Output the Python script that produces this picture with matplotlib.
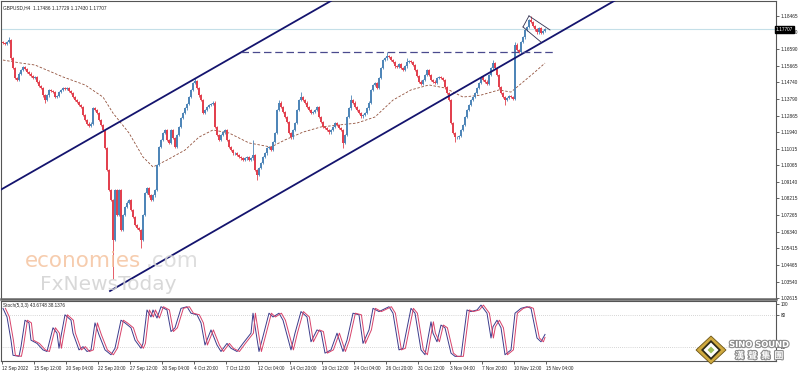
import numpy as np
import matplotlib.pyplot as plt
from matplotlib.patches import Polygon
import matplotlib.patheffects as pe

# GBPUSD H4 closes, one per bar
closes = [
    1.1695, 1.1689, 1.1700, 1.1712, 1.1610, 1.1554, 1.1498, 1.1487, 1.1521, 1.1543,
    1.1560, 1.1549, 1.1532, 1.1521, 1.1509, 1.1498, 1.1504, 1.1476, 1.1453, 1.1442,
    1.1402, 1.1374, 1.1402, 1.1431, 1.1425, 1.1419, 1.1391, 1.1397, 1.1419, 1.1431,
    1.1442, 1.1436, 1.1442, 1.1425, 1.1414, 1.1391, 1.1374, 1.1363, 1.1346, 1.1335,
    1.1290, 1.1262, 1.1240, 1.1228, 1.1240, 1.1329, 1.1318, 1.1301, 1.1262, 1.1234,
    1.1206, 1.1105, 1.0981, 1.0869, 1.0812, 1.0588, 1.0869, 1.0728, 1.0869, 1.0644,
    1.0728, 1.0773, 1.0796, 1.0812, 1.0756, 1.0717, 1.0672, 1.0655, 1.0644, 1.0588,
    1.0728, 1.0852, 1.0880, 1.0840, 1.0812, 1.0840, 1.0869, 1.1009, 1.1110, 1.1150,
    1.1189, 1.1206, 1.1150, 1.1133, 1.1206, 1.1161, 1.1110, 1.1178, 1.1223, 1.1273,
    1.1301, 1.1329, 1.1352, 1.1391, 1.1431, 1.1470, 1.1481, 1.1442, 1.1402, 1.1374,
    1.1301, 1.1318, 1.1335, 1.1346, 1.1352, 1.1358, 1.1223, 1.1178, 1.1150, 1.1178,
    1.1194, 1.1206, 1.1150, 1.1110, 1.1093, 1.1076, 1.1076, 1.1065, 1.1054, 1.1048,
    1.1037, 1.1048, 1.1054, 1.1037, 1.1048, 1.1065, 1.0981, 1.0953, 1.0992, 1.1020,
    1.1054, 1.1076, 1.1105, 1.1110, 1.1093, 1.1138, 1.1189, 1.1318, 1.1358, 1.1335,
    1.1307, 1.1279, 1.1251, 1.1189, 1.1166, 1.1206, 1.1245, 1.1318, 1.1374, 1.1391,
    1.1374, 1.1358, 1.1335, 1.1318, 1.1301, 1.1307, 1.1318, 1.1335, 1.1279, 1.1251,
    1.1223, 1.1217, 1.1206, 1.1194, 1.1206, 1.1223, 1.1245, 1.1234, 1.1217, 1.1206,
    1.1133, 1.1178, 1.1279, 1.1329, 1.1374, 1.1358, 1.1335, 1.1318, 1.1301, 1.1284,
    1.1290, 1.1301, 1.1329, 1.1358, 1.1431, 1.1459, 1.1470, 1.1442, 1.1498, 1.1554,
    1.1599, 1.1610, 1.1622, 1.1616, 1.1599, 1.1588, 1.1565, 1.1560, 1.1577, 1.1554,
    1.1543, 1.1565, 1.1588, 1.1594, 1.1588, 1.1571, 1.1543, 1.1509, 1.1476, 1.1464,
    1.1487, 1.1515, 1.1543, 1.1515, 1.1487, 1.1476, 1.1470, 1.1498, 1.1504, 1.1498,
    1.1487, 1.1447, 1.1414, 1.1374, 1.1245, 1.1189, 1.1166, 1.1166, 1.1172, 1.1206,
    1.1234, 1.1279, 1.1318, 1.1346, 1.1374, 1.1391, 1.1414, 1.1442, 1.1470, 1.1504,
    1.1487, 1.1476, 1.1464, 1.1515, 1.1554, 1.1582, 1.1554, 1.1515, 1.1447, 1.1414,
    1.1391, 1.1374, 1.1386, 1.1397, 1.1391, 1.1380, 1.1684, 1.1655, 1.1644, 1.1700,
    1.1728, 1.1768, 1.1785, 1.1824, 1.1813, 1.1790, 1.1773, 1.1756, 1.1779, 1.1751,
    1.1762, 1.1771,
]
first_open = 1.1700
wick = 0.0008
high_marks = {3: 1.1728, 96: 1.1498, 125: 1.1150, 138: 1.1374, 149: 1.1419, 174: 1.1402,
              192: 1.1644, 202: 1.1610, 245: 1.1599, 256: 1.1700, 264: 1.1847}
low_marks = {21: 1.1358, 55: 1.0370, 69: 1.0543, 127: 1.0925, 170: 1.1105, 226: 1.1138,
             251: 1.1346}

# dashed moving average (bar, value)
ma_bars = [0, 9, 16, 30, 41, 50, 55, 63, 70, 75, 82, 91, 98, 105, 113, 123, 134, 141, 150,
           159, 168, 177, 186, 195, 204, 213, 221, 230, 239, 248, 254, 257, 266, 271]
ma_vals = [1.1599, 1.1582, 1.1571, 1.1504, 1.1459, 1.1391, 1.1301, 1.1189, 1.1054, 1.0998,
           1.1037, 1.1093, 1.1166, 1.1206, 1.1189, 1.1133, 1.1110, 1.1150, 1.1194, 1.1223,
           1.1234, 1.1245, 1.1279, 1.1374, 1.1431, 1.1459, 1.1442, 1.1391, 1.1402, 1.1431,
           1.1419, 1.1447, 1.1532, 1.1582]

# trend lines drawn on the chart (bar, price)
upper_channel = [(-0.5, 1.0874), (163, 1.1925)]
lower_channel = [(53.5, 1.0301), (302, 1.1908)]
resistance = [(119, 1.1644), (275.5, 1.1644)]
flag_top = [(263, 1.1847), (273.5, 1.1768)]
flag_bottom = [(260, 1.1785), (269, 1.1700)]
last_price = 1.17707

price_ticks = [1.18465, 1.17540, 1.16590, 1.15665, 1.14740, 1.13790, 1.12865, 1.11940,
               1.11015, 1.10065, 1.09140, 1.08215, 1.07265, 1.06340, 1.05415, 1.04465,
               1.03540, 1.02615]

# stochastic main line vertices (bar, value)
stoch_bars = [0, 2, 4, 5, 8, 9, 11, 13, 14, 17, 20, 22, 25, 27, 28, 29, 31, 34, 35, 38, 40, 42,
              44, 46, 48, 51, 54, 56, 59, 61, 64, 66, 69, 70, 72, 74, 75, 77, 79, 82, 84, 86,
              89, 92, 94, 97, 99, 101, 104, 107, 109, 112, 114, 117, 120, 124, 125, 128, 130,
              133, 135, 138, 140, 144, 146, 149, 152, 154, 157, 159, 161, 164, 167, 170, 172,
              175, 178, 180, 183, 185, 188, 193, 195, 198, 200, 204, 206, 209, 211, 214, 215,
              217, 219, 221, 224, 226, 229, 232, 234, 237, 239, 242, 244, 245, 247, 249, 251,
              254, 256, 259, 262, 264, 267, 269, 271]
stoch_k = [92, 76, 33, 5, 3, 21, 70, 65, 33, 27, 15, 12, 56, 46, 18, 40, 80, 70, 46, 15, 21, 12,
           15, 65, 43, 15, 6, 18, 70, 65, 56, 33, 18, 27, 89, 76, 89, 74, 95, 89, 49, 56,
           92, 95, 83, 80, 65, 24, 52, 24, 12, 27, 18, 12, 27, 46, 83, 12, 40,
           83, 76, 83, 70, 15, 46, 86, 76, 30, 52, 49, 9, 15, 46, 12, 33,
           83, 80, 27, 52, 92, 86, 95, 83, 15, 18, 92, 83, 15, 6, 67, 46,
           30, 61, 56, 9, 3, 3, 89, 86, 89, 98, 83, 37, 58, 70, 56, 6,
           15, 83, 92, 95, 92, 37, 30, 43.67]
stoch_last_signal = 38.14

time_labels = ["12 Sep 2022", "15 Sep 12:00", "20 Sep 04:00", "22 Sep 20:00", "27 Sep 12:00",
               "30 Sep 04:00", "4 Oct 20:00", "7 Oct 12:00", "12 Oct 04:00", "14 Oct 20:00",
               "19 Oct 12:00", "24 Oct 04:00", "26 Oct 20:00", "31 Oct 12:00", "3 Nov 04:00",
               "7 Nov 20:00", "10 Nov 12:00", "15 Nov 04:00"]

W, H = 798, 372
plt.rcParams['font.family'] = ['Liberation Sans', 'DejaVu Sans']
fig = plt.figure(figsize=(W / 100, H / 100), dpi=100)
fig.patch.set_facecolor('white')


def px_axes(x0, y0, x1, y1):
    return fig.add_axes([x0 / W, 1 - y1 / H, (x1 - x0) / W, (y1 - y0) / H])


ax = px_axes(1, 1, 776, 299)
ax2 = px_axes(1, 301, 776, 361)

c = np.array(closes)
o = np.r_[first_open, c[:-1]]
bars = np.arange(len(c))
hi = np.maximum(o, c) + wick
lo = np.minimum(o, c) - wick
for k, v in high_marks.items():
    hi[k] = max(hi[k], v)
for k, v in low_marks.items():
    lo[k] = min(lo[k], v)
up = c >= o
cols = np.where(up, '#4f86b8', '#e2414f')
ax.vlines(bars, lo, hi, colors=cols, lw=0.6, zorder=3)
body = np.maximum(np.abs(c - o), 0.0003)
ax.bar(bars, body, bottom=np.minimum(o, c), width=1.0, color=cols, lw=0, zorder=3)

ax.plot(ma_bars, ma_vals, color='#92513c', lw=0.6, ls=(0, (3, 2)), zorder=2)


def extend(pts, x0, x1):
    (a, pa), (b, pb) = pts
    s = (pb - pa) / (b - a)
    return [x0, x1], [pa + s * (x0 - a), pa + s * (x1 - a)]


xs, ys = extend(upper_channel, -1, 200)
ax.plot(xs, ys, color='#14146e', lw=1.3, zorder=4)
xs, ys = extend(lower_channel, lower_channel[0][0], 320)
ax.plot(xs, ys, color='#14146e', lw=1.3, zorder=4)
ax.plot([p[0] for p in resistance], [p[1] for p in resistance], color='#4a4a8e', lw=0.9,
        ls=(0, (6, 3)), zorder=4)
for seg in (flag_top, flag_bottom):
    ax.plot([p[0] for p in seg], [p[1] for p in seg], color='#303050', lw=0.6, zorder=4)
ax.plot([flag_top[0][0], flag_bottom[0][0]], [flag_top[0][1], flag_bottom[0][1]],
        color='#303050', lw=0.6, zorder=4)
ax.axhline(last_price, color='#c4dfe8', lw=0.8, zorder=1)

ax.set_xlim(-1, 386.5)
ax.set_ylim(1.0256, 1.19308)
ax.yaxis.tick_right()
ax.set_yticks(price_ticks)
ax.set_yticklabels([f'{t:.5f}' for t in price_ticks])
ax.set_xticks([])
ax.tick_params(axis='y', labelsize=3.4, length=2, width=0.5, pad=1, colors='#222')
for sp in ax.spines.values():
    sp.set_color('#555555')
    sp.set_linewidth(0.8)
ax.spines['bottom'].set_linewidth(1.8)
ax.spines['bottom'].set_color('#666666')
ax.text(1.0, last_price, f'{last_price:.5f}', transform=ax.get_yaxis_transform(),
        ha='left', va='center', fontsize=3.4, color='white', zorder=10, clip_on=False,
        bbox=dict(boxstyle='square,pad=0.15', fc='black', ec='black'))
ax.text(0.003, 0.985, 'GBPUSD,H4  1.17486 1.17729 1.17430 1.17707', transform=ax.transAxes,
        fontsize=3.4, va='top', ha='left', color='#222')

# stochastic panel
ax2.plot(stoch_bars, stoch_k, color='#3c3c8c', lw=0.7, zorder=3)
sig_x = list(np.array(stoch_bars[:-1]) + 1.2) + [stoch_bars[-1]]
sig_y = stoch_k[:-1] + [stoch_last_signal]
ax2.plot(sig_x, sig_y, color='#d8436a', lw=0.7, zorder=3)
for lvl in (20, 80):
    ax2.axhline(lvl, color='#b0b0b0', lw=0.5, ls=(0, (1, 2)))
ax2.set_xlim(-1, 386.5)
ax2.set_ylim(-5.6, 105.6)
ax2.yaxis.tick_right()
ax2.set_yticks([0, 20, 80, 100])
ax2.set_yticklabels(['0', '20', '80', '100'])
ax2.set_xticks([16 * k - 0.5 for k in range(len(time_labels))])
ax2.set_xticklabels(time_labels)
for lbl in ax2.get_xticklabels():
    lbl.set_ha('left')
ax2.tick_params(labelsize=3.3, length=2, width=0.5, pad=1.5, colors='#222')
for sp in ax2.spines.values():
    sp.set_color('#555555')
    sp.set_linewidth(0.8)
ax2.text(0.003, 0.96, 'Stoch(5,3,3) 43.6748 38.1376', transform=ax2.transAxes,
         fontsize=3.3, va='top', ha='left', color='#222')

# watermarks
fig.text(25 / W, 1 - 267 / H, 'economies', fontsize=15.5, color='#f5c4a0', alpha=0.85,
         family='DejaVu Sans', va='baseline', zorder=1)
fig.text(146 / W, 1 - 267 / H, '.com', fontsize=15.5, color='#d9d9d9', alpha=0.85,
         family='DejaVu Sans', va='baseline', zorder=1)
fig.text(40 / W, 1 - 290 / H, 'FxNewsToday', fontsize=14.5, color='#d2d2d2', alpha=0.85,
         family='DejaVu Sans', va='baseline', zorder=1)

# Sino Sound logo
ov = fig.add_axes([0, 0, 1, 1], zorder=20)
ov.set_xlim(0, W)
ov.set_ylim(H, 0)
ov.axis('off')
ov.patch.set_alpha(0)
ov.add_patch(Polygon([(711, 336), (726, 350), (711, 364), (696, 350)], closed=True,
                     fc='#cfa93f', ec='#6b5416', lw=0.6))
ov.add_patch(Polygon([(711, 340), (721, 350), (711, 360), (701, 350)], closed=True,
                     fc='#2e2a18', ec='none'))
ov.add_patch(Polygon([(711, 342.5), (718.5, 350), (711, 357.5), (703.5, 350)], closed=True,
                     fc='white', ec='none'))
ov.add_patch(Polygon([(711, 346.5), (714.5, 350), (711, 353.5), (707.5, 350)], closed=True,
                     fc='#9cc05a', ec='none'))
stroke = [pe.withStroke(linewidth=1.6, foreground='#8c8c8c')]
ov.text(759, 344.5, 'SINO SOUND', fontsize=6, fontweight='bold', color='white',
        ha='center', va='center', family='DejaVu Sans', path_effects=stroke)
ov.text(759, 356, '漢  聲  集  團', fontsize=6.5, fontweight='bold', color='white',
        ha='center', va='center', family=['Noto Sans CJK TC', 'DejaVu Sans'],
        path_effects=stroke)

fig.savefig('out.png', dpi=100)
